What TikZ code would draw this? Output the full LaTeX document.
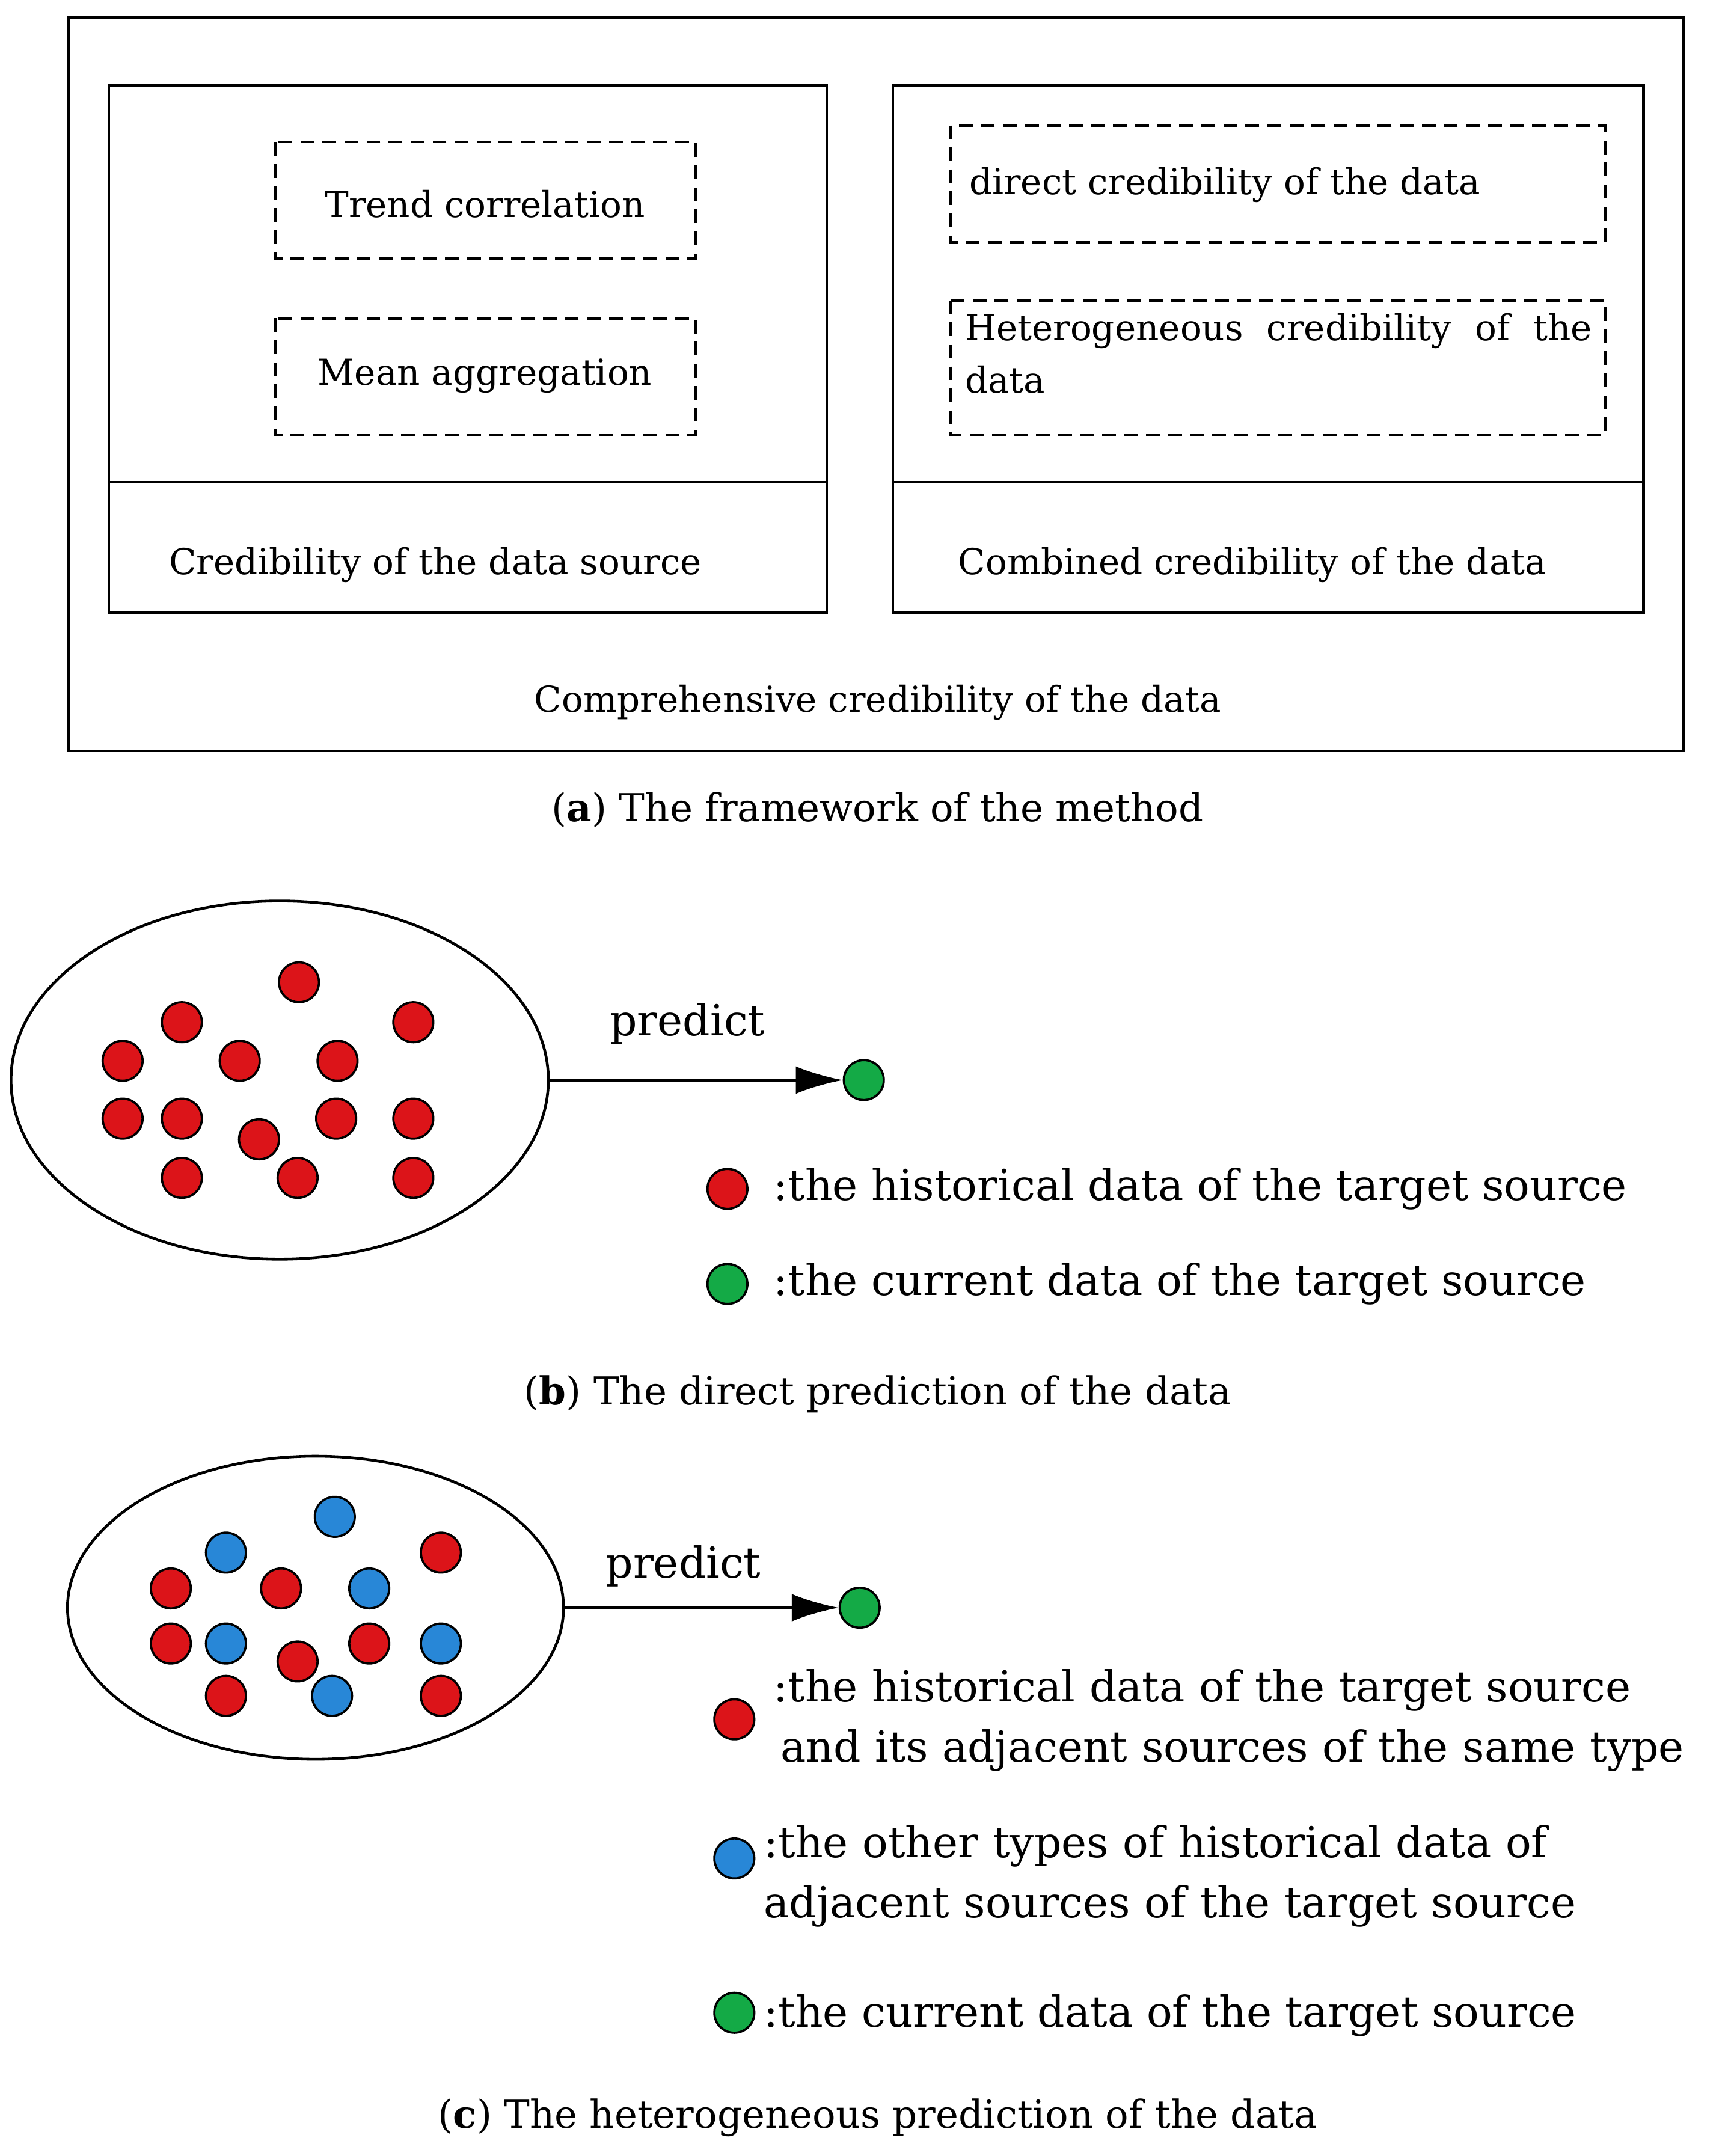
\documentclass[tikz,border=0pt]{standalone}
\usepackage{fontspec}
\setmainfont{DejaVu Serif}
\usetikzlibrary{arrows.meta}
\definecolor{dred}{RGB}{220,20,25}
\definecolor{dgreen}{RGB}{20,170,70}
\definecolor{dblue}{RGB}{40,135,215}
\begin{document}
\begin{tikzpicture}[x=1pt,y=-1pt,
 box/.style={draw,line width=2pt},
 dbox/.style={draw,line width=2pt,dash pattern=on 10pt off 6pt},
 t/.style={font=\fontsize{26}{38}\selectfont},
 capt/.style={font=\fontsize{28}{34}\selectfont},
 lg/.style={font=\fontsize{31}{44}\selectfont,anchor=west},
 dot/.style={circle,draw,line width=1.6pt,minimum size=29pt,inner sep=0pt},
 r/.style={dot,fill=dred},g/.style={dot,fill=dgreen},b/.style={dot,fill=dblue},
 arr/.style={line width=2pt,-{Latex[length=34pt,width=20pt]}}]
\useasboundingbox (0,0) rectangle (1254,1565);
\draw[box] (50,13) rectangle (1222,545);
\node[t] (l0) at (637,510) {Comprehensive credibility of the data};
\draw[box] (79,62) rectangle (600,445); \draw[box] (79,350) -- (600,350);
\node[t] (l1) at (316,410) {Credibility of the data source};
\draw[dbox] (200,103) rectangle (505,188); \node[t] (d1) at (352,148) {Trend correlation};
\draw[dbox] (200,231) rectangle (505,316); \node[t] (d2) at (352,273) {Mean aggregation};
\draw[box] (648,62) rectangle (1193,445); \draw[box] (648,350) -- (1193,350);
\node[t] (l2) at (909,410) {Combined credibility of the data};
\draw[dbox] (690,91) rectangle (1165,176); \node[t,anchor=west] (d3) at (700,134) {direct credibility of the data};
\draw[dbox] (690,218) rectangle (1165,316);
\node[t,anchor=north west,text width=455pt,align=justify] (d4) at (697,224) {Heterogeneous credibility of the data};
\node[capt] (ca) at (637,588) {(\textbf{a}) The framework of the method};
% b
\draw[line width=2pt] (203,784) ellipse [x radius=195,y radius=130];
\coordinate (e1) at (398,784);
\foreach \p in {(217,713),(132,742),(300,742),(89,770),(174,770),(245,770),(89,812),(132,812),(244,812),(300,812),(188,827),(132,855),(216,855),(300,855)} \node[r] at \p {};
\node[g] (g1) at (627,784) {};
\draw[arr] (e1) -- (g1);
\node[font=\fontsize{31}{40}\selectfont] (p1) at (499,743) {predict};
\node[r] (lr1) at (528,863) {}; \node[lg] (tr1) at (558,863) {:the historical data of the target source};
\node[g] (lg1) at (528,932) {}; \node[lg] (tg1) at (558,932) {:the current data of the target source};
\node[capt] (cb) at (637,1012) {(\textbf{b}) The direct prediction of the data};
% c
\draw[line width=2pt] (229,1167) ellipse [x radius=180,y radius=110];
\coordinate (e2) at (410,1167);
\foreach \p in {(243,1101),(164,1127),(268,1153),(164,1193),(320,1193),(241,1231)} \node[b] at \p {};
\foreach \p in {(320,1127),(124,1153),(204,1153),(124,1193),(216,1206),(268,1193),(164,1231),(320,1231)} \node[r] at \p {};
\node[g] (g2) at (624,1167) {};
\draw[arr] (e2) -- (g2);
\node[font=\fontsize{31}{40}\selectfont] (p2) at (496,1137) {predict};
\node[r] (lr2) at (533,1248) {};
\node[lg,anchor=north west,text width=690pt,align=left] (tr2) at (558,1208) {:the historical data of the target source\\\,and its adjacent sources of the same type};
\node[b] (lb2) at (533,1349) {};
\node[lg,anchor=north west,text width=690pt,align=left] (tb2) at (551,1321) {:the other types of historical data of\\adjacent sources of the target source};
\node[g] (lg2) at (533,1461) {}; \node[lg] (tg2) at (551,1463) {:the current data of the target source};
\node[capt] (cc) at (637,1537) {(\textbf{c}) The heterogeneous prediction of the data};
\end{tikzpicture}
\end{document}
